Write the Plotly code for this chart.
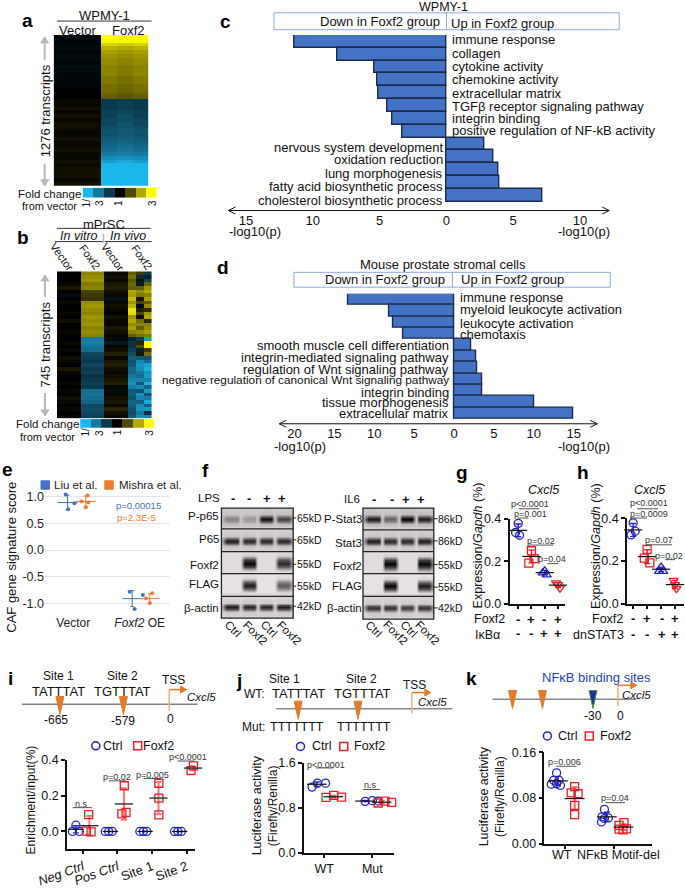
import plotly.graph_objects as go

W, H = 685, 892
# page margins: paper coordinates start here, text may sit in them without shifting the plots
ML, MT, MR, MB = 30, 30, 1, 1
FONT = "Liberation Sans"
BLUE = "#2222c8"
RED = "#f01c24"
ORANGE = "#e07b2c"
BAR = "#4472c4"

# a: fold change heatmap, one value per row
a_vector = [-.1, -.1, -.1, -.2, -.1, -.2, -.2, -.1, -.2, -.2, -.1, -.1, -.1, -.1, 0, 0, 0,
            .1, .1, .2, .1, .2, .1, .2, .2, .1, .1, .2, .1, .1, .2, .1, .1, .2, .1, .2, .2, .2, .1, .2]
a_foxf2_1 = [3, 2.9, 2.5, 2.1, 1.9, 1.8, 1.7, 1.7, 1.6, 1.6, 1.6, 1.5, 1.5, 1.4, 1.4, 1.3, 1.2,
             -1, -1, -1, -1.1, -1.1, -1.2, -1.2, -1.3, -1.4, -1.4, -1.5, -1.6, -1.7, -1.8, -2, -2.3, -2.6,
             -3, -3, -3, -3, -3, -3]
a_foxf2_2 = [3, 2.9, 2.4, 2, 1.8, 1.7, 1.6, 1.6, 1.5, 1.5, 1.5, 1.4, 1.4, 1.3, 1.3, 1.2, 1.1,
             -1.1, -1.1, -1.1, -1.2, -1.3, -1.3, -1.4, -1.4, -1.5, -1.5, -1.6, -1.7, -1.8, -1.9, -2.1, -2.4, -2.8,
             -3, -3, -3, -3, -3, -3]

# b: fold change heatmap, in vitro and in vivo
b_vitro_vector = [0, 0, 0, .1, .3, 0, -.2, 0, .1, 0, 0, .1, 0, .2, 0, 0, .1, 0, 0, .1, 0, .1, 0, .2, .1, 0, .3, .1, 0, 0,
                  .1, 0, .1, 0, .2, .1, 0, .1, 0, .1]
b_vitro_foxf2 = [1.6, 1.7, 1.8, 1.5, 1.6, .9, .8, .7, 1.7, 1.8, 1.7, 1.6, 1.8, 1.7, 1.8, 1.6, 1.7, 1.6,
                 -2, -2.1, -1.9, -1.8, -1.2, -1.1, -1, -1.2, -1, -1.1, -.9, -1, -1.1, -1, -1.8, -1.9, -1.8, -1.7,
                 -1.2, -1.3, -1.2, -1.1]
b_vivo_vector = [.1, .2, .1, .3, .4, .2, .1, -.3, .1, .2, .1, 0, .2, .1, .1, .3, .2, .1, -.2, -.4, .1, .2, .4, .1, .3, .4, .2, .1,
                 .2, .3, .4, .1, -.2, .1, .2, .3, .1, .5, .2, .1]
b_vivo_foxf2_1 = [1.2, 1.4, 1.1, 1.3, 1.2, 2, 1.9, 2.2, 1.8, 2.1, 2.7, 2.6, 1.8, 2, 1.7, 1.9, 1.6, 1.2,
                  -.6, -.9, -.8, -1.1, -1.3, -1.6, -1.4, -1.5, -1.8, -1.7, -2, -2.2, -2.4, -2.1, -1.5, -1.6, -1.4,
                  -1.7, -1.6, -1.4, -1.3, -1.5]
b_vivo_foxf2_2 = [.8, -.7, .2, -.5, 1.2, 1.7, 1.5, .3, .9, -.2, .4, 1, .2, 1.4, 1.6, 1.2, 1.7, 1.4,
                  -1, .5, 1, -.6, .3, -1.5, -2.2, -2.4, -2.3, -2, -1.8, -2.2, -1.5, -2.3, -1.4, -2.4, -2.2, -1.6,
                  -2.3, -2.4, -2, -2.3]
b_vivo_foxf2_3 = [-1, -.6, -1.2, 1.3, 1.8, 2, 1.6, 1.9, 1.2, 1.7, .6, 1.8, 2, .5, 1.6, 1.7, 1.9, 1.5,
                  -2.6, 3, 3, .8, 1.4, -1.4, -1.8, -2.7, -2.9, -2.4, -2.6, -2.2, -2.9, -1.7, -2.5, -1.4, -2.1,
                  -2.8, -1.6, -2.5, -.8, -2.2]
colorbar_levels = [-3, -2, -1, 0, 1, 2, 3]

# c: enrichment, WPMY-1 (negative = down in Foxf2 group)
c_terms = ["immune response", "collagen", "cytokine activity", "chemokine activity", "extracellular matrix",
           "TGFβ receptor signaling pathway", "integrin binding", "positive regulation of NF-kB activity",
           "nervous system development", "oxidation reduction", "lung morphogenesis",
           "fatty acid biosynthetic process", "cholesterol biosynthetic process"]
c_values = [-11.37, -8.13, -5.4, -5.2, -5.1, -4.45, -4.03, -3.26, 2.81, 3.5, 3.86, 3.93, 7.16]
c_label_y = [40, 54, 67, 80, 94, 107, 119, 131, 148, 161, 175, 188, 202]

# d: enrichment, mouse prostate stromal cells
d_terms = ["immune response", "myeloid leukocyte activation", "leukocyte activation", "chemotaxis",
           "smooth muscle cell differentiation", "integrin-mediated signaling pathway",
           "regulation of Wnt signaling pathway", "negative regulation of canonical Wnt signaling pathway",
           "integrin binding", "tissue morphogenesis", "extracellular matrix"]
d_values = [-13.25, -8.17, -7.58, -6.4, 2.17, 2.8, 2.9, 3.5, 3.6, 10.0, 14.9]
d_label_y = [300, 312, 326, 337, 348, 360, 372, 383, 395, 406, 417]

# e: CAF signature score
e_liu_x = [-.18, -.04, -.14, .84, 1.05, .92]
e_liu_y = [1.04, .876, .765, -.78, -.84, -1.105]
e_mishra_x = [.17, .07, .14, .18, 1.2, 1.1, 1.16]
e_mishra_y = [1.02, .91, .80, .89, -.81, -.905, -.99]
e_mean_x = [-.15, .14, .88, 1.16]
e_mean_y = [.89, .91, -.91, -.91]
e_sd = [.14, .1, .15, .09]
e_mean_colors = ["#4472c4", "#ed7d31", "#4472c4", "#ed7d31"]

# f: western blot band strengths per lane (Ctrl, Foxf2, Ctrl, Foxf2)
lps_blots = {"P-p65": [.4, .28, .95, .72], "P65": [.9, .85, .85, .85], "Foxf2": [0, 1, 0, .85],
             "FLAG": [0, .9, 0, .65], "β-actin": [.9, .85, .85, .9]}
il6_blots = {"P-Stat3": [.9, .55, 1, .88], "Stat3": [.9, .85, .85, .9], "Foxf2": [0, 1, 0, 1],
             "FLAG": [0, 1, 0, .9], "β-actin": [.8, .8, .75, .8]}
blot_thickness = [.14, .15, .24, .22, .14]
blot_background = [.16, .12, .07, .04, .1]
lps_kd = ["65kD", "65kD", "55kD", "55kD", "42kD"]
il6_kd = ["86kD", "86kD", "55kD", "55kD", "42kD"]
stim_signs = ["-", "-", "+", "+"]

# g: Cxcl5 expression
g_groups_x = [[0, -.2, .1], [1, 1.2, .8], [1.85, 2, 2.15], [2.85, 3, 3.15]]
g_groups_y = [[.378, .335, .322], [.249, .212, .191], [.145, .154, .135], [.098, .089, .073]]
g_means = [.345, .222, .146, .087]
g_sds = [.03, .03, .01, .012]
g_sign1 = ["-", "+", "-", "+"]
g_sign2 = ["-", "-", "+", "+"]

# h: Cxcl5 expression
h_groups_x = [[0, .15, -.15], [1, .8, 1.2], [1.85, 2, 2.15], [2.9, 3, 3.1]]
h_groups_y = [[.378, .339, .322], [.254, .213, .191], [.151, .171, .151], [.109, .089, .07]]
h_means = [.345, .22, .161, .089]
h_sds = [.03, .032, .01, .02]

# i: ChIP enrichment
i_ticks = ["<i>Neg Ctrl</i>", "<i>Pos Ctrl</i>", "Site 1", "Site 2"]
i_ctrl_x = [-.2, -.3, -.1, .65, .75, .85, 1.65, 1.75, 1.85, 2.65, 2.75, 2.85]
i_ctrl_y = [.035, 0, 0, 0, 0, 0, 0, 0, 0, 0, 0, 0]
i_ctrl_means = [.012, 0, 0, 0]
i_ctrl_sds = [.02, 0, 0, 0]
i_foxf2_x = [.17, .1, .24, 1.2, 1.13, 1.25, 2.2, 2.2, 2.2, 3.2, 3.25, 3.13]
i_foxf2_y = [.094, .002, -.002, .256, .098, .107, .27, .187, .093, .367, .359, .341]
i_foxf2_means = [.032, .154, .187, .355]
i_foxf2_sds = [.054, .088, .09, .012]

# j: luciferase, WT and Mut
j_ticks = ["WT", "Mut"]
j_ctrl_x = [-.25, -.14, .03, .85, 1, 1.12]
j_ctrl_y = [1.169, 1.24, 1.24, .915, .927, .92]
j_ctrl_means = [1.22, .92]
j_ctrl_sds = [.04, .01]
j_foxf2_x = [.04, .2, .36, 1.12, 1.26, 1.4]
j_foxf2_y = [.986, 1.02, .99, .885, .92, .897]
j_foxf2_means = [.997, .9]
j_foxf2_sds = [.02, .02]

# k: luciferase, WT and NFkB motif deletion
k_ticks = ["WT", "NFκB Motif-del"]
k_ctrl_x = [-.18, -.24, -.13, -.29, -.18, -.1, .8, .75, .88, .8, .74]
k_ctrl_y = [.124, .111, .111, .104, .105, .102, .060, .047, .045, .044, .038]
k_ctrl_means = [.11, .047]
k_ctrl_sds = [.008, .008]
k_foxf2_x = [.19, .12, .26, .19, .19, 1.2, 1.1, 1.25, 1.1, 1.18]
k_foxf2_y = [.100, .089, .0875, .067, .051, .037, .032, .026, .0255, .024]
k_foxf2_means = [.079, .029]
k_foxf2_sds = [.02, .005]

fig = go.Figure()
layout_axes = {}
axis_count = 0
RDY = [[0, "#1ab7ea"], [1 / 6, "#17789f"], [2 / 6, "#0b3a4c"], [.5, "#000000"],
       [4 / 6, "#4f4a00"], [5 / 6, "#b3aa00"], [1, "#ffff00"]]
BLOT = [[0, "#f0eaee"], [.45, "#8f8a8e"], [1, "#060606"]]


def fx(px):
    return (px - ML) / (W - ML - MR)


def fy(py):
    return 1 - (py - MT) / (H - MT - MB)


def new_axes(x0, y0, x1, y1, xopts, yopts):
    # pixel box -> axis domains, returns the trace refs
    global axis_count
    axis_count += 1
    n = axis_count
    xo = dict(domain=[fx(x0), fx(x1)], anchor=f"y{n}", showgrid=False, zeroline=False, visible=False)
    yo = dict(domain=[fy(y1), fy(y0)], anchor=f"x{n}", showgrid=False, zeroline=False, visible=False)
    xo.update(xopts)
    yo.update(yopts)
    layout_axes[f"xaxis{n}"] = xo
    layout_axes[f"yaxis{n}"] = yo
    return dict(xaxis=f"x{n}", yaxis=f"y{n}")


def label(x, y, text, size=12, anchor="center", angle=0, color="#111111"):
    fig.add_annotation(x=fx(x), y=fy(y), xref="paper", yref="paper", text=text, showarrow=False,
                       xanchor=anchor, yanchor="middle", textangle=angle,
                       font=dict(family=FONT, size=size, color=color), borderpad=0, borderwidth=0)


def line(x0, y0, x1, y1, color="#222222", width=1):
    fig.add_shape(type="line", xref="paper", yref="paper", x0=fx(x0), x1=fx(x1),
                  y0=fy(y0), y1=fy(y1), line=dict(color=color, width=width))


def poly(points, fill, edge=None):
    path = "M " + " L ".join(f"{fx(px):.5f},{fy(py):.5f}" for px, py in points) + " Z"
    fig.add_shape(type="path", xref="paper", yref="paper", path=path, fillcolor=fill,
                  line=dict(color=edge or fill, width=1))


def rect(x0, y0, x1, y1, fill="rgba(0,0,0,0)", edge="#8faadc", width=1):
    fig.add_shape(type="rect", xref="paper", yref="paper", x0=fx(x0), x1=fx(x1), y0=fy(y0), y1=fy(y1),
                  fillcolor=fill, line=dict(color=edge, width=width))


def site_mark(x, y0, y1, fill=ORANGE, edge=None):
    poly([(x - 4, y0), (x + 4, y0), (x, y1)], fill, edge)


def tss(x, y0, y1, x1):
    line(x, y0, x, y1, "#f0b080", 1.5)
    line(x, y1, x1 - 5, y1, ORANGE, 1.5)
    poly([(x1 - 6, y1 - 3.5), (x1 - 6, y1 + 3.5), (x1, y1)], ORANGE)


def gray_arrow(x, y0, y1):
    # y0 is the head end
    line(x, y0, x, y1, "#b9b9b9", 2)
    side = 6 if y1 > y0 else -6
    poly([(x - 4, y0 + side), (x + 4, y0 + side), (x, y0)], "#b9b9b9")


def double_arrow(x0, x1, y):
    line(x0, y, x1, y, "#111111", 1)
    for ex, d in ((x0, 7), (x1, -7)):
        line(ex, y, ex + d, y - 3.5, "#111111", 1)
        line(ex, y, ex + d, y + 3.5, "#111111", 1)


def pvalue(x, y, text, x0, x1, ly, size=9):
    label(x, y, text, size=size, color="#333333")
    line(x0, ly, x1, ly, "#555555", 1)


def dots(ax, xs, ys, symbol, color, size=8, width=1.3):
    fig.add_trace(go.Scatter(x=xs, y=ys, mode="markers", showlegend=False, cliponaxis=False,
                             marker=dict(symbol=symbol, size=size, color=color,
                                         line=dict(color=color, width=width)), **ax))


def summary(ax, xs, means, sds, color, size=14, thick=1.4):
    fig.add_trace(go.Scatter(x=xs, y=means, mode="markers", showlegend=False, cliponaxis=False,
                             error_y=dict(type="data", array=sds, color=color, thickness=thick, width=3),
                             marker=dict(symbol="line-ew", size=size, line=dict(color="#111111", width=1.2)), **ax))


def axis_style(tickvals, ticktext=None, size=12.5, **extra):
    d = dict(visible=True, showline=True, linecolor="#111111", linewidth=1.5, ticks="outside", ticklen=4,
             tickcolor="#111111", tickwidth=1.5, tickvals=tickvals,
             tickfont=dict(family=FONT, size=size, color="#111111"))
    if ticktext is not None:
        d["ticktext"] = ticktext
    d.update(extra)
    return d


def legend_marks(x0, x1, y):
    ax = new_axes(x0 - 8, y - 7, x1 + 8, y + 7, dict(range=[0, x1 - x0 + 16]), dict(range=[0, 1]))
    dots(ax, [8], [.5], "circle-open", BLUE, width=1.5)
    dots(ax, [x1 - x0 + 8], [.5], "square-open", RED, width=1.5)


# panel letters
for px_, py_, letter in [(25, 20, "a"), (21, 239, "b"), (224, 21, "c"), (222, 269, "d"), (5, 473, "e"),
                         (204, 474, "f"), (461, 476, "g"), (583, 476, "h"), (8, 684, "i"), (238, 686, "j"),
                         (471, 684, "k")]:
    label(px_, py_, f"<b>{letter}</b>", size=19, color="#000000")

# ---- a
ax = new_axes(51.7, 35, 146.7, 187, dict(range=[-.5, 5.5]), dict(range=[39.5, -.5]))
a_z = [[v, v, v, f1, f2, f1] for v, f1, f2 in zip(a_vector, a_foxf2_1, a_foxf2_2)]
fig.add_trace(go.Heatmap(z=a_z, colorscale=RDY, zmin=-3, zmax=3, showscale=False, **ax))
ax = new_axes(81, 189, 155, 199, dict(range=[-.5, 6.5]), dict(range=[-.5, .5]))
fig.add_trace(go.Heatmap(z=[colorbar_levels], colorscale=RDY, zmin=-3, zmax=3, showscale=False, **ax))
label(103, 15, "WPMY-1", 13)
line(55, 21, 150, 21, "#333333")
label(76, 30, "Vector", 13)
label(126.7, 30, "Foxf2", 13)
gray_arrow(42.7, 37, 60)
gray_arrow(42.7, 187, 165)
label(43.3, 111.7, "1276 transcripts", 13, angle=-90)
label(48, 195, "Fold change", 11.5)
label(48, 207, "from vector", 11)
for bx, bt in [(85, "1/"), (97.7, "3"), (116.7, "1"), (150.7, "3")]:
    label(bx, 204, bt, 10, angle=-90)

# ---- b
ax = new_axes(55, 273.3, 150, 421.7, dict(range=[-.5, 11.5]), dict(range=[39.5, -.5]))
b_z = [[a, a, a, b, b, b, c, c, c, d, e, f] for a, b, c, d, e, f in
       zip(b_vitro_vector, b_vitro_foxf2, b_vivo_vector, b_vivo_foxf2_1, b_vivo_foxf2_2, b_vivo_foxf2_3)]
fig.add_trace(go.Heatmap(z=b_z, colorscale=RDY, zmin=-3, zmax=3, showscale=False, **ax))
ax = new_axes(78.3, 422.3, 152.3, 431, dict(range=[-.5, 6.5]), dict(range=[-.5, .5]))
fig.add_trace(go.Heatmap(z=[colorbar_levels], colorscale=RDY, zmin=-3, zmax=3, showscale=False, **ax))
label(102, 225.7, "mPrSC", 13)
line(55, 230, 149, 230, "#333333")
label(76.7, 238, "<i>In vitro</i>", 12.5)
label(126.7, 238, "<i>In vivo</i>", 12.5)
line(53, 243.3, 101, 243.3, "#333333")
line(103, 243.3, 150, 243.3, "#333333")
line(101.7, 235, 101.7, 245, "#bbbbbb", 1.5)
for bx, bt in [(60, "Vector"), (88, "Foxf2"), (111, "Vector"), (140, "Foxf2")]:
    label(bx, 259, bt, 11, angle=55)
gray_arrow(43, 277, 299)
gray_arrow(43, 419, 396)
label(43.3, 346.7, "745 transcripts", 13, angle=-90)
label(46, 427.7, "Fold change", 11.5)
label(46, 440, "from vector", 11)
for bx, bt in [(83.3, "1/"), (97.7, "3"), (116, "1"), (147.7, "3")]:
    label(bx, 435.7, bt, 10, angle=-90)


# ---- c, d
def enrichment(terms, values, label_ys, box, tickvals, ticktext, ylab_gap, term_size):
    x0, x1, y0, y1, zero_px, px_per, bar_h = box
    n = len(terms)
    ax = new_axes(x0, y0, x1, y1,
                  dict(range=[(x0 - zero_px) / px_per, (x1 - zero_px) / px_per], visible=True, showline=False,
                       ticks="", tickvals=tickvals, ticktext=ticktext,
                       tickfont=dict(family=FONT, size=13, color="#111111")),
                  dict(range=[(y1 - y0) / bar_h - .5, -.5]))
    fig.add_trace(go.Bar(x=values, y=list(range(n)), orientation="h", width=1, showlegend=False,
                         marker=dict(color=BAR, line=dict(color="#1d2b4a", width=1.4)), **ax))
    for term, v, ly, sz in zip(terms, values, label_ys, term_size):
        if v < 0:
            label(zero_px + ylab_gap[0], ly, term, sz, anchor="left")
        else:
            label(zero_px + ylab_gap[1], ly, term, sz, anchor="right")


enrichment(c_terms, c_values, c_label_y, (227, 609, 35, 212, 445.7, 13.4, 12.92),
           [-15, -10, -5, 0, 5, 10], ["15", "10", "5", "0", "5", "10"], (6, -3), [13] * 13)
enrichment(d_terms, d_values, d_label_y, (278, 597, 296, 427, 453.3, 8, 11.45),
           [-20, -15, -10, -5, 0, 5, 10, 15], ["20", "15", "10", "5", "0", "5", "10", "15"], (6, -5),
           [13] * 7 + [11.8] + [13] * 3)
double_arrow(227, 609, 212)
double_arrow(278, 597, 427)
label(442.7, 6.5, "WPMY-1", 12.5)
rect(272.7, 12.7, 619, 29.7)
line(445.7, 12.7, 445.7, 29.7, "#8faadc")
label(379, 21, "Down in Foxf2 group", 13)
label(501.7, 23, "Up in Foxf2 group", 13)
label(254, 233, "-log10(p)", 13)
label(584, 233, "-log10(p)", 13)
label(442.7, 266.7, "Mouse prostate stromal cells", 13)
rect(292.7, 274.3, 610, 289.3)
line(451.7, 274.3, 451.7, 289.3, "#8faadc")
label(384, 282, "Down in Foxf2 group", 13)
label(512, 282, "Up in Foxf2 group", 13)
label(299, 450, "-log10(p)", 13)
label(584, 450, "-log10(p)", 13)

# ---- e
ax = new_axes(43, 492.4, 168, 618.9,
              dict(range=[-.51, 1.476], visible=True, showline=False, ticks="", tickvals=[-.06, 1],
                   ticktext=["Vector", "<i>Foxf2</i> OE"], tickfont=dict(family=FONT, size=12, color="#222222")),
              dict(range=[-1.2, 1.15], visible=True, showline=False, ticks="", tickvals=[1, .5, 0, -.5, -1],
                   ticktext=["1.0", "0.5", "0.0", "-0.5", "-1.0"], showgrid=True, gridcolor="#e4e4e4",
                   tickfont=dict(family=FONT, size=12.5, color="#222222")))
fig.add_trace(go.Scatter(x=e_liu_x, y=e_liu_y, mode="markers", showlegend=False,
                         marker=dict(color="#4472c4", size=4), **ax))
fig.add_trace(go.Scatter(x=e_mishra_x, y=e_mishra_y, mode="markers", showlegend=False,
                         marker=dict(color="#ed7d31", size=4), **ax))
for mx, my, sd, mc in zip(e_mean_x, e_mean_y, e_sd, e_mean_colors):
    fig.add_trace(go.Scatter(x=[mx], y=[my], mode="markers", showlegend=False,
                             error_y=dict(type="data", array=[sd], color=mc, thickness=1, width=2),
                             marker=dict(symbol="line-ew", size=14, line=dict(color=mc, width=1)), **ax))
label(10, 562, "CAF gene signature score", 13, angle=-90)
rect(39, 484.5, 47.5, 493, fill="#4472c4", edge="#4472c4")
label(52, 489, "Liu et al.", 11.5, anchor="left", color="#222222")
rect(103, 484.5, 111.5, 493, fill="#ed7d31", edge="#ed7d31")
label(117, 489, "Mishra et al.", 11.5, anchor="left", color="#222222")
label(137, 509, "p=0.00015", 9.5, color="#4472c4")
label(115, 521, "p=2.3E-5", 9.5, anchor="left", color="#ed7d31")


# ---- f
def blots(x0, x1, y_edges, data, thickness, background):
    ax = new_axes(x0, y_edges[0], x1, y_edges[-1], dict(range=[-.62, 3.58]), dict(range=[5, 0]))
    xs = [-.7]
    for lane in range(4):
        xs += [lane - .3, lane + .3, lane + .5 if lane < 3 else 3.7]
    for row, (name, lanes) in enumerate(data.items()):
        t = thickness[row]
        bg = background[row]
        ys = [row, row + .5 - t * 1.5, row + .5 - t * .6, row + .5, row + .5 + t * .6, row + .5 + t * 1.5, row + 1]
        weights = [0, .08, .75, 1, .75, .08, 0]
        z = []
        for w in weights:
            r = [bg]
            for b in lanes:
                r += [b * w + bg * (1 - b * w), b * w + bg * (1 - b * w), bg]
            z.append(r)
        fig.add_trace(go.Heatmap(x=xs, y=ys, z=z, zmin=0, zmax=1, colorscale=BLOT, zsmooth="best",
                                 showscale=False, **ax))
    rect(x0, y_edges[0], x1, y_edges[-1], edge="#222222", width=1.3)
    for ye in y_edges[1:-1]:
        line(x0, ye, x1, ye, "#222222", 1.3)


blots(220, 292, [512, 533, 556, 578, 601, 623], lps_blots, blot_thickness, blot_background)
blots(362, 433, [512, 534, 556, 578, 601, 624], il6_blots, blot_thickness, blot_background)
for name, ly in zip(lps_blots, [520, 543, 569, 589, 612.7]):
    label(218, ly, name, 11.5, anchor="right")
for name, ly in zip(il6_blots, [523, 547, 570, 591, 613]):
    label(360.7, ly, name, 11.5, anchor="right")
for kd, ly in zip(lps_kd, [522, 544, 568.7, 590.7, 611]):
    line(292, ly, 295, ly, "#222222")
    label(296, ly, kd, 10.5, anchor="left")
for kd, ly in zip(il6_kd, [522.7, 545, 569, 591.7, 612.7]):
    line(433, ly, 437, ly, "#222222")
    label(437.7, ly, kd, 10.5, anchor="left")
label(219, 502, "LPS", 11.5, anchor="right")
label(359, 503, "IL6", 11.5, anchor="right")
for s, lx, rx in zip(stim_signs, [232, 248, 266, 281], [373, 391, 405, 420]):
    label(lx, 502, f"<b>{s}</b>", 13)
    label(rx, 503, f"<b>{s}</b>", 13)
for bx, by, bt in [(231.7, 634, "Ctrl"), (254, 637.7, "Foxf2"), (268, 634, "Ctrl"), (288, 637.7, "Foxf2"),
                   (372.7, 634, "Ctrl"), (395, 638, "Foxf2"), (408, 634, "Ctrl"), (426.7, 638, "Foxf2")]:
    label(bx, by, bt, 11.5, angle=45)


# ---- g, h
def expression(box, gx, gy, means, sds):
    x0, x1, y0, y1, t0, step = box
    ax = new_axes(x0, y0, x1, y1,
                  axis_style([0, 1, 2, 3], ["", "", "", ""], range=[(x0 - t0) / step, (x1 - t0) / step]),
                  axis_style([0, .2, .4], ["0.0", "0.2", "0.4"], range=[0, .4]))
    styles = [("circle-open", BLUE), ("square-open", RED), ("triangle-up-open", BLUE), ("triangle-down-open", RED)]
    for (sym, col), xs, ys, m, sd, i in zip(styles, gx, gy, means, sds, range(4)):
        dots(ax, xs, ys, sym, col, size=8)
        summary(ax, [i], [m], [sd], col, size=13)


expression((509, 565, 522.7, 608.3, 517.7, 13.3), g_groups_x, g_groups_y, g_means, g_sds)
expression((626.7, 684, 522.2, 608.3, 633, 14), h_groups_x, h_groups_y, h_means, h_sds)
for tx in [477, 596]:
    label(tx, 550, "Expression/<i>Gapdh</i> (%)", 12.5, angle=-90)
label(543, 494, "<i>Cxcl5</i>", 12.5)
label(649, 494, "<i>Cxcl5</i>", 12.5)
pvalue(530, 507.7, "p&lt;0.0001", 518, 539, 512.7)
pvalue(530, 518, "p=0.001", 517, 528, 522)
pvalue(540.7, 545, "p=0.02", 528, 553, 549.3)
pvalue(552, 563, "p=0.04", 547, 558, 568)
pvalue(649, 507, "p&lt;0.0001", 637, 658, 512.7)
pvalue(649, 518, "p=0.0009", 630, 647, 522)
pvalue(659, 544, "p=0.07", 646, 672, 549)
pvalue(669, 560, "p=0.02", 665, 675, 564)
label(504, 624, "Foxf2", 12.5, anchor="right")
label(499, 640, "IκBα", 12.5, anchor="right")
label(622.7, 624, "Foxf2", 12.5, anchor="right")
label(624, 640, "dnSTAT3", 12.5, anchor="right")
for s1, s2, gxp, hxp in zip(g_sign1, g_sign2, [517.7, 531, 544, 557.7], [633, 646.7, 662, 675]):
    label(gxp, 624, f"<b>{s1}</b>", 13)
    label(gxp, 638, f"<b>{s2}</b>", 13)
    label(hxp, 623, f"<b>{s1}</b>", 13)
    label(hxp, 639, f"<b>{s2}</b>", 13)

# ---- i
ax = new_axes(65, 766, 193, 855.3,
              axis_style([0, 1, 2, 3], i_ticks, size=13, range=[-.46, 3.23], tickangle=-20),
              axis_style([0, .2, .4], ["0.0", "0.2", "0.4"], range=[-.096, .4]))
dots(ax, i_ctrl_x, i_ctrl_y, "circle-open", BLUE)
dots(ax, i_foxf2_x, i_foxf2_y, "square-open", RED)
summary(ax, [-.2, .8, 1.8, 2.8], i_ctrl_means, i_ctrl_sds, BLUE, size=11)
summary(ax, [.19, 1.19, 2.19, 3.19], i_foxf2_means, i_foxf2_sds, "rgba(240,28,36,.6)", size=13, thick=2)
label(29, 806.7, "Enrichment/input(%)", 12, angle=-90)
legend_marks(94, 136, 751.7)
label(101.7, 751.7, "Ctrl", 12.5, anchor="left")
label(141.7, 751.7, "Foxf2", 12.5, anchor="left")
pvalue(80, 810, "n.s", 71, 90, 814)
pvalue(115, 783, "p=0.02", 107, 124, 787)
pvalue(150.7, 780.7, "p=0.005", 142, 159, 784.7)
pvalue(186.7, 762.7, "p&lt;0.0001", 176, 193, 767)
line(20, 709.7, 196, 709.7, "#444444", 1)
site_mark(58, 702, 720)
site_mark(121.7, 702, 720)
tss(167.7, 716.7, 695, 185)
label(57, 681, "Site 1", 12)
label(120.7, 681, "Site 2", 12)
label(57, 696.7, "TATTTAT", 13)
label(120.7, 697, "TGTTTAT", 13)
label(172, 685.7, "TSS", 12)
label(200, 702, "<i>Cxcl5</i>", 11.5)
label(54, 726, "-665", 12)
label(121.7, 727, "-579", 12)
label(169, 725, "0", 12)


# ---- j, k
def luciferase(box, yticks, yrange, ticks, cx, cy, cm, cs, fx_, fy_, fm, fs):
    x0, x1, y0, y1, t0, step = box
    ax = new_axes(x0, y0, x1, y1,
                  axis_style([0, 1], ticks, tickangle=0, range=[(x0 - t0) / step, (x1 - t0) / step]),
                  axis_style(yticks[0], yticks[1], range=yrange))
    dots(ax, cx, cy, "circle-open", BLUE)
    dots(ax, fx_, fy_, "square-open", RED)
    summary(ax, [-.15, .85], cm, cs, BLUE)
    summary(ax, [.19, 1.19], fm, fs, "rgba(240,28,36,.7)", thick=2)


luciferase((302.7, 393, 769, 859.3, 323, 48.4), ([0, .8, 1.6], ["0.0", "0.8", "1.6"]), [0, 1.6], j_ticks,
           j_ctrl_x, j_ctrl_y, j_ctrl_means, j_ctrl_sds, j_foxf2_x, j_foxf2_y, j_foxf2_means, j_foxf2_sds)
luciferase((544, 651.7, 758.3, 850.3, 565, 49), ([0, .08, .16], ["0.00", "0.08", "0.16"]), [0, .16], ["", ""],
           k_ctrl_x, k_ctrl_y, k_ctrl_means, k_ctrl_sds, k_foxf2_x, k_foxf2_y, k_foxf2_means, k_foxf2_sds)
for tick, tx in zip(k_ticks, [562, 618]):
    label(tx, 862, tick, 12.5)

label(255.7, 811.7, "Luciferase activity", 12.5, angle=-90)
label(271.7, 811.7, "(Firefly/Renilla)", 12, angle=-90)
pvalue(325, 770.7, "p&lt;0.0001", 315, 332, 774)
pvalue(370, 791, "n.s", 362, 379, 795.7)
line(275, 714.3, 451.7, 714.3, "#888888", 1.5)
site_mark(297, 706.7, 725)
site_mark(357, 706.7, 725)
tss(411, 719, 698, 430)
label(283, 684, "Site 1", 12)
label(361, 684, "Site 2", 12)
label(252.7, 699.3, "WT:", 12)
label(297.7, 699.3, "TATTTAT", 13)
label(361.7, 699.3, "TGTTTAT", 13)
label(251.7, 732.3, "Mut:", 12)
label(296, 732.3, "TTTTTTT", 12.5)
label(362.7, 732.3, "TTTTTTT", 12.5)
label(414, 690, "TSS", 12)
label(431.7, 707.7, "<i>Cxcl5</i>", 11.5)
legend_marks(299.3, 342.7, 752.3)
label(311, 752.3, "Ctrl", 12.5, anchor="left")
label(352.7, 752.3, "Foxf2", 12.5, anchor="left")

label(484.3, 802.7, "Luciferase activity", 12.5, angle=-90)
label(500, 802.7, "(Firefly/Renilla)", 12, angle=-90)
pvalue(564, 767.7, "p=0.006", 556, 576, 772.3)
pvalue(615, 804.3, "p=0.04", 605, 625, 809)
line(492, 704.7, 636.7, 704.7, "#888888", 1.5)
site_mark(512, 696, 714)
site_mark(542, 696, 714)
site_mark(592.7, 696, 714, "#1c2f9e", "#4f8f3a")
tss(617.7, 711.7, 690.7, 636.7)
label(596.7, 683, "NFκB binding sites", 13, color="#2a3fbf")
label(592.7, 721.7, "-30", 12)
label(620.7, 721.7, "0", 12)
label(636, 700, "<i>Cxcl5</i>", 11.5)
legend_marks(547, 589, 741.7)
label(558, 741.7, "Ctrl", 12.5, anchor="left")
label(600, 741.7, "Foxf2", 12.5, anchor="left")

fig.update_layout(width=W, height=H, margin=dict(l=ML, r=MR, t=MT, b=MB), autosize=False,
                  plot_bgcolor="white", paper_bgcolor="white", bargap=0,
                  font=dict(family=FONT), **layout_axes)
fig.write_html("out.html", post_script="document.body.style.margin='0';", config={"displayModeBar": False})
